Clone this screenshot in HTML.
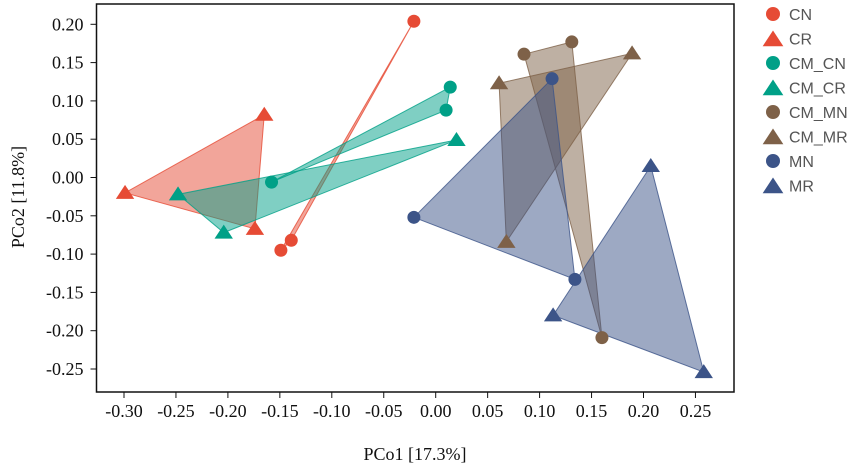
<!DOCTYPE html>
<html><head><meta charset="utf-8"><style>
body{margin:0;background:#fff;}
svg text{font-family:"Liberation Serif",serif;}
</style></head><body>
<svg id="chart" width="851" height="467" xmlns="http://www.w3.org/2000/svg">
<g id="polys"></g><g id="marks"></g><g id="axes"></g><g id="legend"></g>
</svg>
<script>
const groups = ["CN","CR","CM_CN","CM_CR","CM_MN","CM_MR","MN","MR"];
const colors = ["#e64b35","#e64b35","#00a087","#00a087","#7e6148","#7e6148","#3c5488","#3c5488"];
const shapes = ["circle","triangle","circle","triangle","circle","triangle","circle","triangle"];
const xCN=[-0.021,-0.139,-0.149], yCN=[0.204,-0.082,-0.095];
const xCR=[-0.299,-0.165,-0.174], yCR=[-0.020,0.082,-0.067];
const xCMCN=[-0.158,0.014,0.010], yCMCN=[-0.006,0.118,0.088];
const xCMCR=[-0.248,-0.204,0.020], yCMCR=[-0.022,-0.072,0.049];
const xCMMN=[0.085,0.131,0.160], yCMMN=[0.161,0.177,-0.209];
const xCMMR=[0.061,0.189,0.068], yCMMR=[0.123,0.162,-0.084];
const xMN=[-0.021,0.112,0.134], yMN=[-0.052,0.129,-0.133];
const xMR=[0.113,0.207,0.258], yMR=[-0.180,0.015,-0.254];
const xs=[xCN,xCR,xCMCN,xCMCR,xCMMN,xCMMR,xMN,xMR];
const ys=[yCN,yCR,yCMCN,yCMCR,yCMMN,yCMMR,yMN,yMR];
const xTicks=[-0.30,-0.25,-0.20,-0.15,-0.10,-0.05,0.00,0.05,0.10,0.15,0.20,0.25];
const yTicks=[0.20,0.15,0.10,0.05,0.00,-0.05,-0.10,-0.15,-0.20,-0.25];

const NS="http://www.w3.org/2000/svg";
const L=96.5,T=4,R=734,B=392;
function X(v){return 435.7+v*1039;}
function Y(v){return 177.5-v*766;}
function mk(tag,attrs,parent){const e=document.createElementNS(NS,tag);for(const k in attrs)e.setAttribute(k,attrs[k]);parent.appendChild(e);return e;}
const polys=document.getElementById('polys'),marks=document.getElementById('marks'),axes=document.getElementById('axes'),legend=document.getElementById('legend');
function tri(cx,cy,s){return `${cx},${cy-s} ${cx-s*1.15},${cy+s*0.75} ${cx+s*1.15},${cy+s*0.75}`;}
groups.forEach((g,i)=>{
  const pts=xs[i].map((x,j)=>X(x)+","+Y(ys[i][j])).join(" ");
  const p=mk('polygon',{points:pts,fill:colors[i],'fill-opacity':0.5,stroke:colors[i],'stroke-width':1,'stroke-opacity':0.8},polys);
  
  
  xs[i].forEach((x,j)=>{
    let m;
    if(shapes[i]=="circle") m=mk('circle',{cx:X(x),cy:Y(ys[i][j]),r:6.5,fill:colors[i]},marks);
    else m=mk('polygon',{points:tri(X(x),Y(ys[i][j]),8),fill:colors[i]},marks);
    
    
  });
  const ly=14+i*24.5;
  let lm;
  if(shapes[i]=="circle") lm=mk('circle',{cx:773,cy:ly,r:7,fill:colors[i]},legend);
  else lm=mk('polygon',{points:tri(773,ly+1,9),fill:colors[i]},legend);
  
  
  const lt=mk('text',{x:789,y:ly+6,'font-size':16,fill:'#555',style:'font-family:"Liberation Sans",sans-serif'},legend);
  lt.textContent=g;
  
  
});
const box=mk('rect',{x:L,y:T,width:R-L,height:B-T,fill:'none',stroke:'#111','stroke-width':1.5},axes);


xTicks.forEach(v=>{
  mk('line',{x1:X(v),x2:X(v),y1:B,y2:B+6,stroke:'#111'},axes);
  const t=mk('text',{x:X(v),y:B+25,'font-size':18,'text-anchor':'middle',fill:'#111'},axes);
  t.textContent=v.toFixed(2);
  
  
});
yTicks.forEach(v=>{
  mk('line',{x1:L-6,x2:L,y1:Y(v),y2:Y(v),stroke:'#111'},axes);
  const t=mk('text',{x:L-13,y:Y(v)+6,'font-size':18,'text-anchor':'end',fill:'#111'},axes);
  t.textContent=v.toFixed(2);
  
  
});
const xt=mk('text',{x:415,y:460,'font-size':18,'text-anchor':'middle',fill:'#111'},axes);
xt.textContent="PCo1 [17.3%]";


const yt=mk('text',{x:0,y:0,'font-size':18,'text-anchor':'middle',fill:'#111',transform:'translate(24,197) rotate(-90)'},axes);
yt.textContent="PCo2 [11.8%]";


</script>
</body></html>
